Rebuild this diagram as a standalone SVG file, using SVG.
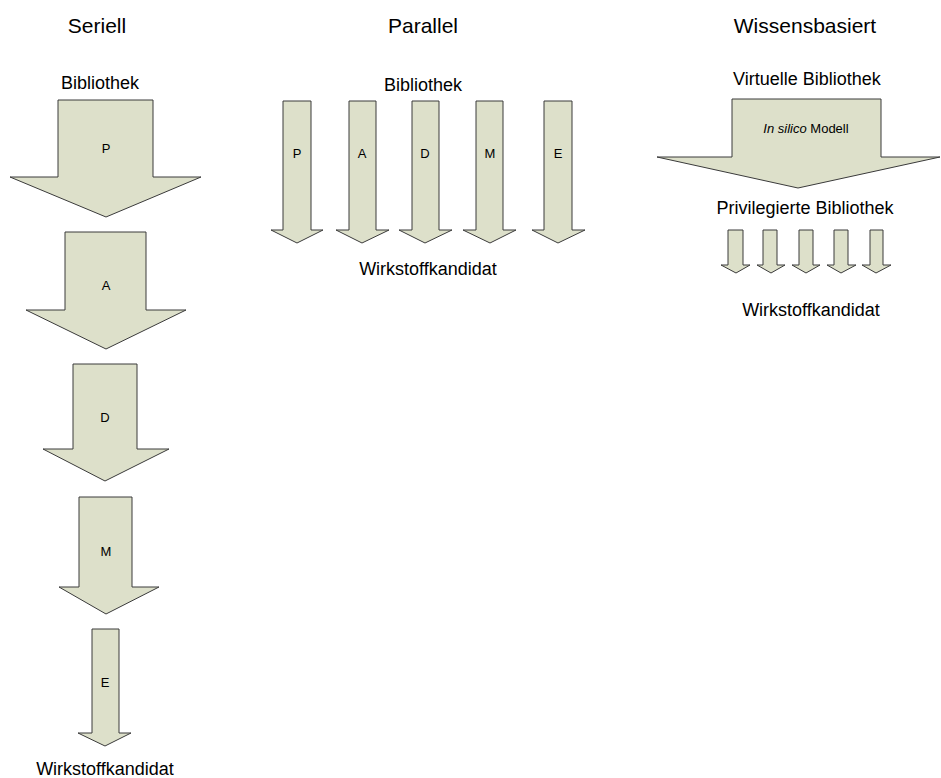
<svg xmlns="http://www.w3.org/2000/svg" width="941" height="778" viewBox="0 0 941 778">
<style>
.ar{fill:#dde0ca;stroke:#3a3a3a;stroke-width:1}
text{font-family:"Liberation Sans",Arial,sans-serif;fill:#000;text-anchor:middle}
.t{font-size:21px}
.l{font-size:18px}
.s{font-size:13px}
</style>
<rect width="941" height="778" fill="#fff"/>
<g id="titles">
<text class="t" x="97" y="33">Seriell</text>
<text class="t" x="423" y="33">Parallel</text>
<text class="t" x="805" y="33">Wissensbasiert</text>
</g>
<g id="serial">
<text class="l" x="100" y="89">Bibliothek</text>
<g id="s-P"><polygon class="ar" points="58,100 153,100 153,177 201,177 106,217 10,177 58,177"/><text class="s" x="106" y="153">P</text></g>
<g id="s-A"><polygon class="ar" points="65,232 146,232 146,310 186,310 106,349 26,310 65,310"/><text class="s" x="106" y="290">A</text></g>
<g id="s-D"><polygon class="ar" points="73,364 137,364 137,449 169,449 105,481 43,449 73,449"/><text class="s" x="105" y="422">D</text></g>
<g id="s-M"><polygon class="ar" points="79,497 132,497 132,587 159,587 106,614 59,587 79,587"/><text class="s" x="106" y="556">M</text></g>
<g id="s-E"><polygon class="ar" points="92,629 119,629 119,733 131,733 105,746 78,733 92,733"/><text class="s" x="105" y="687">E</text></g>
<text class="l" x="105" y="775">Wirkstoffkandidat</text>
</g>
<g id="parallel">
<text class="l" x="423" y="91">Bibliothek</text>
<g id="p-P"><polygon class="ar" points="283,101 311,101 311,230 323,230 297,243 271,230 283,230"/><text class="s" x="297" y="158">P</text></g>
<g id="p-A"><polygon class="ar" points="349,101 376,101 376,230 389,230 362,243 336,230 349,230"/><text class="s" x="362" y="158">A</text></g>
<g id="p-D"><polygon class="ar" points="412,101 439,101 439,230 452,230 425,243 399,230 412,230"/><text class="s" x="425" y="158">D</text></g>
<g id="p-M"><polygon class="ar" points="476,101 503,101 503,230 516,230 490,243 463,230 476,230"/><text class="s" x="490" y="158">M</text></g>
<g id="p-E"><polygon class="ar" points="544,101 572,101 572,230 585,230 558,243 532,230 544,230"/><text class="s" x="558" y="158">E</text></g>
<text class="l" x="428" y="275">Wirkstoffkandidat</text>
</g>
<g id="knowledge">
<text class="l" x="807" y="85">Virtuelle Bibliothek</text>
<g id="k-model"><polygon class="ar" points="732,99 881,99 881,157 940,157 798,188 657,157 732,157"/><text class="s" x="806" y="133"><tspan font-style="italic">In silico</tspan> Modell</text></g>
<text class="l" x="805" y="214">Privilegierte Bibliothek</text>
<g id="k-1"><polygon class="ar" points="728,230 743,230 743,265 750,265 736,273 721,265 728,265"/></g>
<g id="k-2"><polygon class="ar" points="763,230 777,230 777,265 785,265 771,273 757,265 763,265"/></g>
<g id="k-3"><polygon class="ar" points="799,230 813,230 813,265 820,265 806,273 792,265 799,265"/></g>
<g id="k-4"><polygon class="ar" points="834,230 848,230 848,265 856,265 841,273 827,265 834,265"/></g>
<g id="k-5"><polygon class="ar" points="870,230 883,230 883,265 891,265 876,273 862,265 870,265"/></g>
<text class="l" x="811" y="316">Wirkstoffkandidat</text>
</g>
</svg>
